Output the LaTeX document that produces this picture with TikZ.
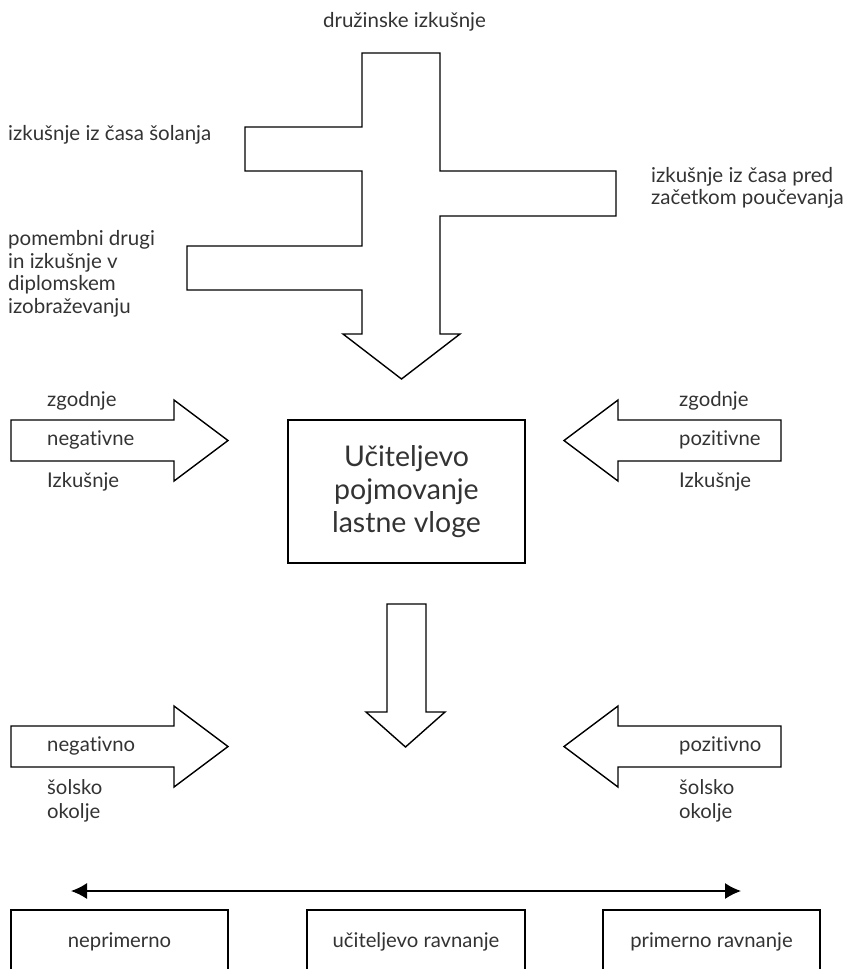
\documentclass[tikz,border=0pt]{standalone}
\usepackage{fontspec}
\setmainfont[RawFeature={-liga;-clig;-calt;-dlig}]{Lato}
\usetikzlibrary{positioning}
\usetikzlibrary{arrows.meta}
\definecolor{ink}{HTML}{333333}
\tikzset{>={Latex[length=16pt,width=16pt]}}
\tikzset{lbl/.style={inner sep=0pt, text=ink, align=left, font=\fontsize{20.5}{22.5}\selectfont}}
\tikzset{side/.style={inner sep=0pt, text=ink, align=left, font=\fontsize{20.3}{24}\selectfont}}
\tikzset{blk/.style={draw, line width=1.4pt, line join=miter}}
\tikzset{box/.style={draw, line width=1.4pt, inner sep=0pt, text=ink, align=center}}

\begin{document}
\begin{tikzpicture}[x=1pt,y=-1pt]
\useasboundingbox (0,0) rectangle (847,969);
\clip (0,0) rectangle (847,969);

\draw[blk] (362,53) -- (440,53) -- (440,171) -- (616,171) -- (616,216) -- (440,216)
  -- (440,334) -- (460,334) -- (401.5,379) -- (343,334) -- (362,334) -- (362,290)
  -- (187,290) -- (187,246) -- (362,246) -- (362,171) -- (245,171) -- (245,127)
  -- (362,127) -- cycle;

\node[lbl] (fam) at (404.5,22) {družinske izkušnje};
\node[lbl, anchor=west] (sch) at (8,135) {izkušnje iz časa šolanja};
\node[lbl, anchor=west] (pre) at (651,188) {izkušnje iz časa pred\\začetkom poučevanja};
\node[lbl, anchor=west] (oth) at (8,274) {pomembni drugi\\in izkušnje v\\diplomskem\\izobraževanju};

\draw[blk] (11,420) -- (174,420) -- (174,400) -- (228,440.5) -- (174,481) -- (174,461) -- (11,461) -- cycle;
\draw[blk] (781,420) -- (618,420) -- (618,400) -- (564,440.5) -- (618,481) -- (618,461) -- (781,461) -- cycle;

\begin{scope}[on grid]
\node[side, anchor=west] (ngv) at (47,440) {negativne};
\node[side] (zgl) [above = 39pt of ngv.west, anchor=west] {zgodnje};
\node[side] (izl) [below = 42pt of ngv.west, anchor=west] {Izkušnje};
\node[side, anchor=west] (pzv) at (679,440) {pozitivne};
\node[side] (zgr) [above = 39pt of pzv.west, anchor=west] {zgodnje};
\node[side] (izr) [below = 42pt of pzv.west, anchor=west] {Izkušnje};
\end{scope}

\node[box, minimum width=237pt, minimum height=143pt, font=\fontsize{28.5}{33}\selectfont]
  (role) at (406.5,491.5) {Učiteljevo\\pojmovanje\\lastne vloge};

\draw[blk] (387,604) -- (426,604) -- (426,712) -- (445,712) -- (405.5,747) -- (366,712) -- (387,712) -- cycle;

\draw[blk] (11,726) -- (174,726) -- (174,706) -- (228,746.5) -- (174,787) -- (174,767) -- (11,767) -- cycle;
\draw[blk] (781,726) -- (618,726) -- (618,706) -- (564,746.5) -- (618,787) -- (618,767) -- (781,767) -- cycle;

\begin{scope}[on grid]
\node[side, anchor=west] (ngo) at (47,746) {negativno};
\node[side] (okl) [below = 55pt of ngo.west, anchor=west] {šolsko\\okolje};
\node[side, anchor=west] (pzo) at (679,746) {pozitivno};
\node[side] (okr) [below = 55pt of pzo.west, anchor=west] {šolsko\\okolje};
\end{scope}

\coordinate (le) at (71,891);
\coordinate (ri) at (741,891);
\draw[<->, line width=1.4pt] (le) -- (ri);

\node[box, side, minimum width=217pt, minimum height=64pt] (nep) at (119.5,942) {neprimerno};
\node[box, side, minimum width=218pt, minimum height=64pt] (rav) at (416,942) {učiteljevo ravnanje};
\node[box, side, minimum width=217pt, minimum height=64pt] (pri) at (711.5,942) {primerno ravnanje};
\end{tikzpicture}
\end{document}
